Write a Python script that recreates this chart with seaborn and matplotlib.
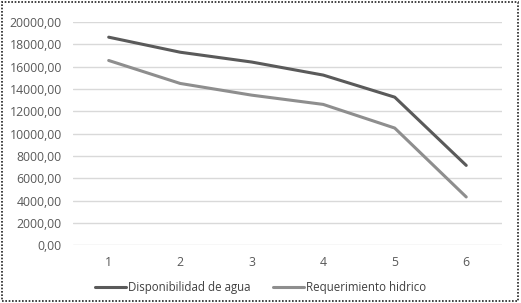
import pandas as pd
import matplotlib.pyplot as plt
import seaborn as sns
from matplotlib.patches import Rectangle
from matplotlib.ticker import FuncFormatter

periodo = [1, 2, 3, 4, 5, 6]
disponibilidad = [18650, 17300, 16420, 15250, 13270, 7150]
requerimiento = [16560, 14500, 13450, 12620, 10500, 4320]
series = ["Disponibilidad de agua", "Requerimiento hidrico"]

df = pd.DataFrame({
    "periodo": periodo * 2,
    "valor": disponibilidad + requerimiento,
    "serie": [series[0]] * 6 + [series[1]] * 6,
})

sns.set_style("white")
plt.rcParams["font.family"] = ["Open Sans", "DejaVu Sans"]

fig = plt.figure(figsize=(5.21, 3.03), dpi=100)
ax = fig.add_axes([0.140, 0.191, 0.8235, 0.736])

sns.lineplot(data=df, x="periodo", y="valor", hue="serie",
             palette=["#5a5a5a", "#8e8e8e"], linewidth=2.2, ax=ax)

ax.set_xlim(0.5, 6.5)
ax.set_ylim(0, 20000)
ax.set_yticks(range(0, 20001, 2000))
ax.set_xticks(periodo)
ax.yaxis.set_major_formatter(FuncFormatter(lambda v, p: f"{v:.2f}".replace(".", ",")))
ax.grid(axis="y", color="#d9d9d9", linewidth=1)
ax.set_axisbelow(True)
for s in ax.spines.values():
    s.set_visible(False)
ax.tick_params(axis="both", length=0, labelsize=8.8, colors="#595959", pad=8)
ax.set_xlabel("")
ax.set_ylabel("")

h, l = ax.get_legend_handles_labels()
ax.get_legend().remove()
fig.legend(h, l, loc="center", bbox_to_anchor=(0.5, 0.05), ncol=2, frameon=False,
           fontsize=8.3, labelcolor="#404040", handlelength=2.7, handletextpad=0.2,
           columnspacing=1.9)

fig.patches.append(Rectangle((0.003, 0.005), 0.992, 0.99, transform=fig.transFigure,
                             fill=False, edgecolor="#222222", linewidth=1.2,
                             linestyle=(0, (1, 1))))

fig.savefig("out.png", dpi=100)
